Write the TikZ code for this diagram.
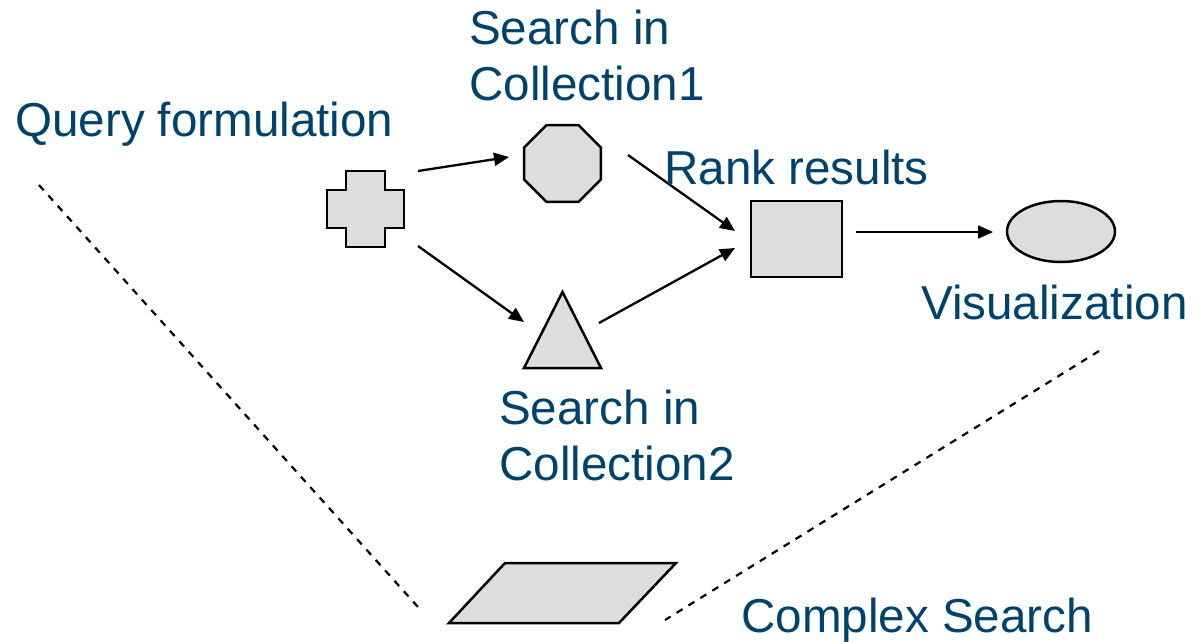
\documentclass[tikz,border=0pt]{standalone}
\usepackage{fontspec}
\setmainfont{Liberation Sans}
\usetikzlibrary{shapes.geometric,arrows.meta,calc}
\definecolor{labelblue}{RGB}{0,66,110}
\definecolor{shapegray}{RGB}{221,221,221}
\tikzset{
  lbl/.style={anchor=base west, inner sep=0pt, text=labelblue, align=left,
    font=\fontsize{47.6}{56}\selectfont},
  shp/.style={draw=black, fill=shapegray, line width=2.5pt, line join=miter},
  box/.style={inner sep=0pt, outer sep=0pt},
  arr/.style={line width=2.3pt, -{Triangle[length=15pt,width=13pt]}},
  dsh/.style={line width=2.2pt, dash pattern=on 7pt off 7pt}
}
\begin{document}
\begin{tikzpicture}[x=1pt,y=-1pt]
\useasboundingbox (0,0) rectangle (1200,641);
% shapes
\node[box, minimum width=77pt, minimum height=76pt] (cross) at (365.5,209) {};
\draw[shp] ($(cross.north west)+(19,0)$) -- ($(cross.north east)+(-19,0)$)
  -- ($(cross.north east)+(-19,19)$) -- ($(cross.north east)+(0,19)$)
  -- ($(cross.south east)+(0,-19)$) -- ($(cross.south east)+(-19,-19)$)
  -- ($(cross.south east)+(-19,0)$) -- ($(cross.south west)+(19,0)$)
  -- ($(cross.south west)+(19,-19)$) -- ($(cross.south west)+(0,-19)$)
  -- ($(cross.north west)+(0,19)$) -- ($(cross.north west)+(19,19)$) -- cycle;
\node[shp, regular polygon, regular polygon sides=8, minimum size=83.3pt, inner sep=0pt] (oct) at (562.5,163.5) {};
\node[box, minimum width=77pt, minimum height=76pt] (tri) at (562.5,330) {};
\draw[shp] (tri.north) -- (tri.south east) -- (tri.south west) -- cycle;
\node[shp, rectangle, minimum width=91pt, minimum height=76pt, inner sep=0pt] (sq) at (796.5,239) {};
\node[shp, ellipse, minimum width=108pt, minimum height=61pt, inner sep=0pt] (ell) at (1061,231.5) {};
\node[box, minimum width=227pt, minimum height=60pt] (para) at (562.5,593) {};
\draw[shp] ($(para.north west)+(56,0)$) -- (para.north east)
  -- ($(para.south east)+(-57,0)$) -- (para.south west) -- cycle;
% arrows
\draw[arr] ([shift={(52.5,-38)}]cross.center) -- ([shift={(-53.5,-6.5)}]oct.center);
\draw[arr] ([shift={(52.5,37)}]cross.center) -- ([shift={(-38.5,-8)}]tri.center);
\draw[arr] ([shift={(65.5,-8.5)}]oct.center) -- ([shift={(-61.5,-8)}]sq.center);
\draw[arr] ([shift={(36.5,-7)}]tri.center) -- ([shift={(-61.5,9)}]sq.center);
\draw[arr] ([shift={(59.5,-7)}]sq.center) -- ([shift={(-68,0.5)}]ell.center);
% dashed lines
\coordinate (dl) at (39,185);
\coordinate (dr) at (1099,351);
\draw[dsh] (dl) -- ([shift={(-144.5,-16)}]para.south);
\draw[dsh] (dr) -- ([shift={(102.5,-3)}]para.south);
% labels
\node[lbl] (qf) at (15,136.5) {Query formulation};
\node[lbl] (s1) at (469,100) {Search in\\Collection1};
\node[lbl] (rr) at (664,184) {Rank results};
\node[lbl] (vis) at (921,319) {Visualization};
\node[lbl] (s2) at (499,480) {Search in\\Collection2};
\node[lbl] (cs) at (741,632) {Complex Search};
\end{tikzpicture}
\end{document}
